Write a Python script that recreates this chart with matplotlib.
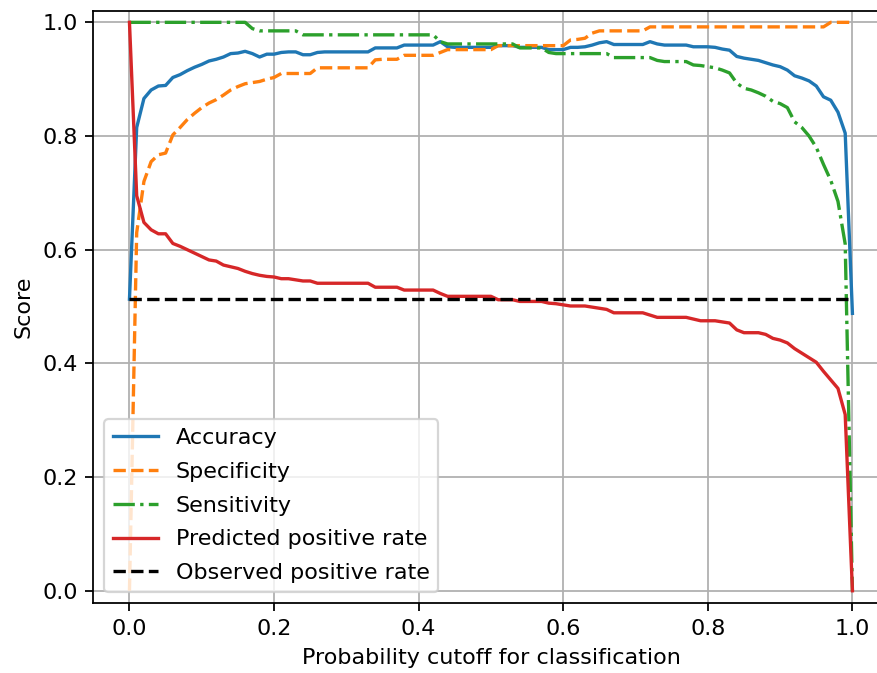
import numpy as np
import matplotlib
matplotlib.use('Agg')
import matplotlib.pyplot as plt

# cutoff grid, one value every 0.01 between 0 and 1
cutoff = np.round(np.arange(0, 1.001, 0.01), 2)

accuracy = [0.513, 0.815, 0.866, 0.881, 0.888, 0.889, 0.903, 0.908, 0.915, 0.921,
            0.926, 0.932, 0.935, 0.939, 0.945, 0.946, 0.949, 0.945, 0.939, 0.944,
            0.944, 0.947, 0.948, 0.948, 0.943, 0.943, 0.947, 0.948, 0.948, 0.948,
            0.948, 0.948, 0.948, 0.948, 0.955, 0.955, 0.955, 0.955, 0.960, 0.960,
            0.960, 0.960, 0.960, 0.966, 0.957, 0.956, 0.956, 0.956, 0.956, 0.956,
            0.956, 0.959, 0.959, 0.959, 0.956, 0.956, 0.956, 0.956, 0.952, 0.952,
            0.952, 0.956, 0.956, 0.957, 0.960, 0.964, 0.966, 0.961, 0.961, 0.961,
            0.961, 0.961, 0.966, 0.962, 0.960, 0.960, 0.960, 0.960, 0.957, 0.957,
            0.957, 0.956, 0.953, 0.951, 0.940, 0.937, 0.935, 0.933, 0.929, 0.925,
            0.922, 0.916, 0.906, 0.902, 0.897, 0.888, 0.869, 0.863, 0.842, 0.805,
            0.488]

specificity = [0.0, 0.63, 0.72, 0.755, 0.767, 0.770, 0.802, 0.815, 0.829, 0.840,
               0.850, 0.858, 0.864, 0.872, 0.881, 0.887, 0.892, 0.894, 0.896, 0.900,
               0.903, 0.910, 0.910, 0.910, 0.910, 0.910, 0.920, 0.920, 0.920, 0.920,
               0.920, 0.920, 0.920, 0.920, 0.934, 0.935, 0.935, 0.935, 0.942, 0.942,
               0.942, 0.942, 0.942, 0.947, 0.952, 0.952, 0.952, 0.952, 0.952, 0.952,
               0.952, 0.959, 0.959, 0.959, 0.959, 0.959, 0.959, 0.959, 0.959, 0.959,
               0.959, 0.969, 0.970, 0.972, 0.981, 0.985, 0.985, 0.985, 0.985, 0.985,
               0.985, 0.985, 0.992, 0.992, 0.992, 0.992, 0.992, 0.992, 0.992, 0.992,
               0.992, 0.992, 0.992, 0.992, 0.992, 0.992, 0.992, 0.992, 0.992, 0.992,
               0.992, 0.992, 0.992, 0.992, 0.992, 0.992, 0.992, 1.0, 1.0, 1.0,
               1.0]

sensitivity = [1.0, 1.0, 1.0, 1.0, 1.0, 1.0, 1.0, 1.0, 1.0, 1.0,
               1.0, 1.0, 1.0, 1.0, 1.0, 1.0, 1.0, 0.989, 0.985, 0.985,
               0.985, 0.985, 0.985, 0.985, 0.978, 0.978, 0.978, 0.978, 0.978, 0.978,
               0.978, 0.978, 0.978, 0.978, 0.978, 0.978, 0.978, 0.978, 0.978, 0.978,
               0.978, 0.978, 0.978, 0.966, 0.962, 0.962, 0.962, 0.962, 0.962, 0.962,
               0.962, 0.962, 0.962, 0.962, 0.955, 0.955, 0.955, 0.955, 0.947, 0.945,
               0.945, 0.945, 0.945, 0.945, 0.945, 0.945, 0.945, 0.938, 0.938, 0.938,
               0.938, 0.938, 0.938, 0.933, 0.931, 0.931, 0.931, 0.931, 0.925, 0.924,
               0.922, 0.920, 0.916, 0.911, 0.893, 0.884, 0.881, 0.876, 0.870, 0.861,
               0.857, 0.850, 0.825, 0.815, 0.800, 0.780, 0.750, 0.722, 0.685, 0.61,
               0.0]

pred_pos_rate = [1.0, 0.695, 0.648, 0.635, 0.628, 0.628, 0.611, 0.606, 0.600, 0.594,
                 0.588, 0.582, 0.580, 0.573, 0.570, 0.567, 0.562, 0.558, 0.555, 0.553,
                 0.552, 0.549, 0.549, 0.547, 0.545, 0.545, 0.541, 0.541, 0.541, 0.541,
                 0.541, 0.541, 0.541, 0.541, 0.534, 0.534, 0.534, 0.534, 0.529, 0.529,
                 0.529, 0.529, 0.529, 0.523, 0.518, 0.518, 0.518, 0.518, 0.518, 0.518,
                 0.518, 0.512, 0.512, 0.512, 0.509, 0.509, 0.509, 0.509, 0.506, 0.505,
                 0.503, 0.501, 0.501, 0.501, 0.499, 0.497, 0.495, 0.489, 0.489, 0.489,
                 0.489, 0.489, 0.485, 0.481, 0.481, 0.481, 0.481, 0.481, 0.478, 0.475,
                 0.475, 0.475, 0.473, 0.471, 0.459, 0.454, 0.454, 0.454, 0.451, 0.444,
                 0.441, 0.436, 0.426, 0.418, 0.410, 0.402, 0.386, 0.371, 0.356, 0.31,
                 0.0]

obs_pos_rate = 0.513  # share of positives in the data

fig = plt.figure(figsize=(877 / 160, 673 / 160), dpi=160)
ax = fig.add_axes([0.1064, 0.1036, 0.9068, 0.8801])  # right spine falls just off the picture

ax.plot(cutoff, accuracy, '-', color='C0', label='Accuracy')
ax.plot(cutoff, specificity, '--', color='C1', label='Specificity')
ax.plot(cutoff, sensitivity, '-.', color='C2', label='Sensitivity')
ax.plot(cutoff, pred_pos_rate, '-', color='C3', label='Predicted positive rate')
ax.plot(cutoff, [obs_pos_rate] * len(cutoff), 'k--', label='Observed positive rate')

ax.set_xlim(-0.05, 1.05)
ax.set_ylim(-0.022, 1.02)
ax.set_xlabel('Probability cutoff for classification')
ax.set_ylabel('Score')
ax.grid(True)
ax.legend(loc='lower left', labelspacing=0.62)

fig.savefig('out.png', dpi=160)
